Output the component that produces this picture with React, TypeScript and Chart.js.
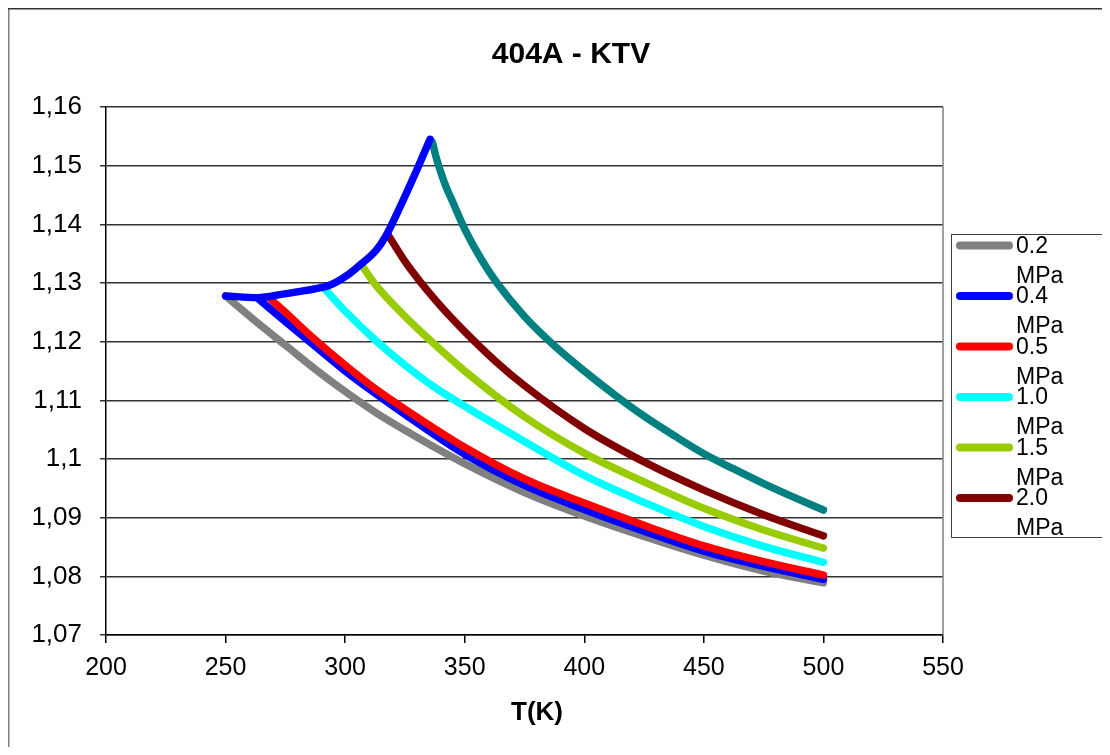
import React, { useEffect, useRef } from "react";
import { Chart, registerables } from "chart.js";

Chart.register(...registerables);

const TITLE = "404A - KTV";
const X_TITLE = "T(K)";
const X_TICKS = [200, 250, 300, 350, 400, 450, 500, 550];
const X_TICK_LABELS = ["200", "250", "300", "350", "400", "450", "500", "550"];
const Y_TICKS = [1.07, 1.08, 1.09, 1.1, 1.11, 1.12, 1.13, 1.14, 1.15, 1.16];
const Y_TICK_LABELS = ["1,07", "1,08", "1,09", "1,1", "1,11", "1,12", "1,13", "1,14", "1,15", "1,16"];
const LEGEND_LABELS = ["0.2 MPa", "0.4 MPa", "0.5 MPa", "1.0 MPa", "1.5 MPa", "2.0 MPa"];

// 0.2 MPa
const T_02 = [250, 262.5, 275, 287.5, 300, 312.5, 325, 350, 375, 400, 425, 450, 475, 500];
const V_02 = [1.1278, 1.1235, 1.1194, 1.1153, 1.1115, 1.108, 1.1049, 1.0992, 1.0943, 1.0903, 1.0868, 1.0836, 1.0809, 1.0789];
// 0.4 MPa
const T_04 = [264, 275, 287.5, 300, 312.5, 325, 350, 375, 400, 425, 450, 475, 500];
const V_04 = [1.1272, 1.1234, 1.1192, 1.115, 1.1112, 1.1076, 1.1008, 1.0955, 1.0914, 1.0877, 1.0843, 1.0817, 1.0795];
// 0.5 MPa
const T_05 = [269, 275, 287.5, 300, 312.5, 325, 350, 375, 400, 425, 450, 475, 500];
const V_05 = [1.1272, 1.125, 1.1203, 1.116, 1.112, 1.1085, 1.102, 1.0966, 1.0925, 1.0887, 1.0852, 1.0825, 1.0802];
// 1.0 MPa
const T_10 = [291.5, 300, 312.5, 325, 337.5, 350, 375, 400, 425, 450, 475, 500];
const V_10 = [1.129, 1.1252, 1.1203, 1.116, 1.1122, 1.109, 1.103, 1.0972, 1.0926, 1.0885, 1.0851, 1.0824];
// 1.5 MPa
const T_15 = [307, 312.5, 325, 337.5, 350, 375, 400, 425, 450, 475, 500];
const V_15 = [1.133, 1.1298, 1.1243, 1.1195, 1.115, 1.1072, 1.101, 1.0961, 1.0916, 1.0879, 1.0848];
// 2.0 MPa
const T_20 = [318, 325, 337.5, 350, 362.5, 375, 400, 425, 450, 475, 500];
const V_20 = [1.1382, 1.1337, 1.1272, 1.1217, 1.1168, 1.1125, 1.1052, 1.0995, 1.0947, 1.0905, 1.0869];
// highest pressure curve (teal, not in visible legend)
const T_HI = [336.5, 338, 339.5, 342, 345, 350, 357, 363.5, 375, 387.5, 400, 412.5, 425, 437.5, 450, 462.5, 475, 487.5, 500];
const V_HI = [1.154, 1.1515, 1.1495, 1.1466, 1.1438, 1.1392, 1.134, 1.13, 1.1243, 1.1193, 1.115, 1.111, 1.1073, 1.104, 1.1009, 1.0983, 1.0958, 1.0935, 1.0913];
// saturated vapour line (blue)
const T_SAT = [250, 263.5, 274, 283, 293.5, 300.5, 306, 313, 317, 323, 330, 335.5];
const V_SAT = [1.1278, 1.1275, 1.1281, 1.1287, 1.1296, 1.1312, 1.133, 1.1356, 1.138, 1.143, 1.1493, 1.1545];

const FONT = "'Liberation Sans', Arial, sans-serif";
const W = 1094;
const H = 739;

const pts = (t: number[], v: number[]) => t.map((x, i) => ({ x, y: v[i] }));

const mk = (label: string, t: number[], v: number[], color: string, order: number) => ({
  label,
  data: pts(t, v),
  borderColor: color,
  backgroundColor: color,
  borderWidth: 7.5,
  borderCapStyle: "round" as const,
  borderJoinStyle: "round" as const,
  pointRadius: 0,
  pointHoverRadius: 0,
  fill: false,
  cubicInterpolationMode: "monotone" as const,
  order,
});

const decorPlugin = {
  id: "decor",
  beforeDraw(chart: any) {
    const { ctx, width, height } = chart;
    ctx.save();
    ctx.fillStyle = "#ffffff";
    ctx.fillRect(0, 0, width, height);
    ctx.fillStyle = "#808080";
    ctx.fillRect(0, 0, 1.5, height);
    ctx.fillStyle = "#333333";
    ctx.fillRect(0, 0, width, 1.5);
    ctx.restore();
  },
  afterDraw(chart: any) {
    const { ctx, chartArea } = chart;
    ctx.save();
    // plot area right border
    ctx.strokeStyle = "#808080";
    ctx.lineWidth = 1.5;
    ctx.beginPath();
    ctx.moveTo(chartArea.right, chartArea.top);
    ctx.lineTo(chartArea.right, chartArea.bottom);
    ctx.stroke();

    // title
    ctx.fillStyle = "#000";
    ctx.textAlign = "center";
    ctx.textBaseline = "middle";
    ctx.font = `bold 30px ${FONT}`;
    ctx.fillText(TITLE, 563, 47);
    // axis title
    ctx.font = `bold 26px ${FONT}`;
    ctx.fillText(X_TITLE, 529, 705);

    // legend
    const bx = 943, by = 226, bw = 151, bh = 303;
    ctx.strokeStyle = "#404040";
    ctx.lineWidth = 1;
    ctx.strokeRect(bx + 0.5, by + 0.5, bw, bh);
    const ds = chart.data.datasets;
    ctx.textAlign = "left";
    ctx.font = `23px ${FONT}`;
    for (let i = 0; i < LEGEND_LABELS.length; i++) {
      const y = 237.5 + i * 50.5;
      ctx.strokeStyle = ds[i].borderColor;
      ctx.lineWidth = 8;
      ctx.lineCap = "round";
      ctx.beginPath();
      ctx.moveTo(952, y);
      ctx.lineTo(1001, y);
      ctx.stroke();
      const parts = LEGEND_LABELS[i].split(" ");
      ctx.fillStyle = "#000";
      ctx.fillText(parts[0], 1008, y + 1);
      ctx.fillText(parts[1], 1008, y + 31);
    }
    ctx.restore();
  },
};

export default function App() {
  const ref = useRef<HTMLCanvasElement | null>(null);
  useEffect(() => {
    if (!ref.current) return;
    const chart = new Chart(ref.current, {
      type: "line",
      data: {
        datasets: [
          mk("0.2 MPa", T_02, V_02, "#808080", 7),
          mk("0.4 MPa", T_04, V_04, "#0000FF", 6),
          mk("0.5 MPa", T_05, V_05, "#FF0000", 5),
          mk("1.0 MPa", T_10, V_10, "#00FFFF", 4),
          mk("1.5 MPa", T_15, V_15, "#99CC00", 3),
          mk("2.0 MPa", T_20, V_20, "#800000", 2),
          mk("high", T_HI, V_HI, "#008080", 1),
          mk("sat", T_SAT, V_SAT, "#0000FF", 0),
        ],
      },
      options: {
        animation: false,
        responsive: false,
        devicePixelRatio: 1,
        layout: { padding: { left: 0, right: W - 935, top: 99, bottom: 50 } },
        plugins: {
          legend: { display: false },
          title: { display: false },
          tooltip: { enabled: false },
        },
        scales: {
          x: {
            type: "linear",
            min: 200,
            max: 550,
            afterBuildTicks: (s: any) => {
              s.ticks = X_TICKS.map((v) => ({ value: v }));
            },
            afterFit: (s: any) => {
              s.height = 62;
            },
            ticks: {
              autoSkip: false,
              maxRotation: 0,
              color: "#000",
              padding: 10,
              font: { family: FONT, size: 25 },
              callback: (v: any) => X_TICK_LABELS[X_TICKS.indexOf(Number(v))],
            },
            grid: { drawOnChartArea: false, color: "#000", tickLength: 8, lineWidth: 1.5 },
            border: { display: true, color: "#000", width: 1.5 },
          },
          y: {
            type: "linear",
            min: 1.07,
            max: 1.16,
            afterBuildTicks: (s: any) => {
              s.ticks = Y_TICKS.map((v) => ({ value: v }));
            },
            afterFit: (s: any) => {
              s.width = 98;
            },
            ticks: {
              color: "#000",
              padding: 18,
              font: { family: FONT, size: 26 },
              callback: (v: any) =>
                Y_TICK_LABELS[Y_TICKS.findIndex((t) => Math.abs(t - Number(v)) < 1e-6)],
            },
            grid: { color: "#333", lineWidth: 1.5, tickLength: 6 },
            border: { display: true, color: "#000", width: 1.5 },
          },
        },
      },
      plugins: [decorPlugin],
    });
    return () => chart.destroy();
  }, []);
  return (
    <div style={{ width: W, height: H }}>
      <canvas ref={ref} width={W} height={H} style={{ display: "block" }} />
    </div>
  );
}
